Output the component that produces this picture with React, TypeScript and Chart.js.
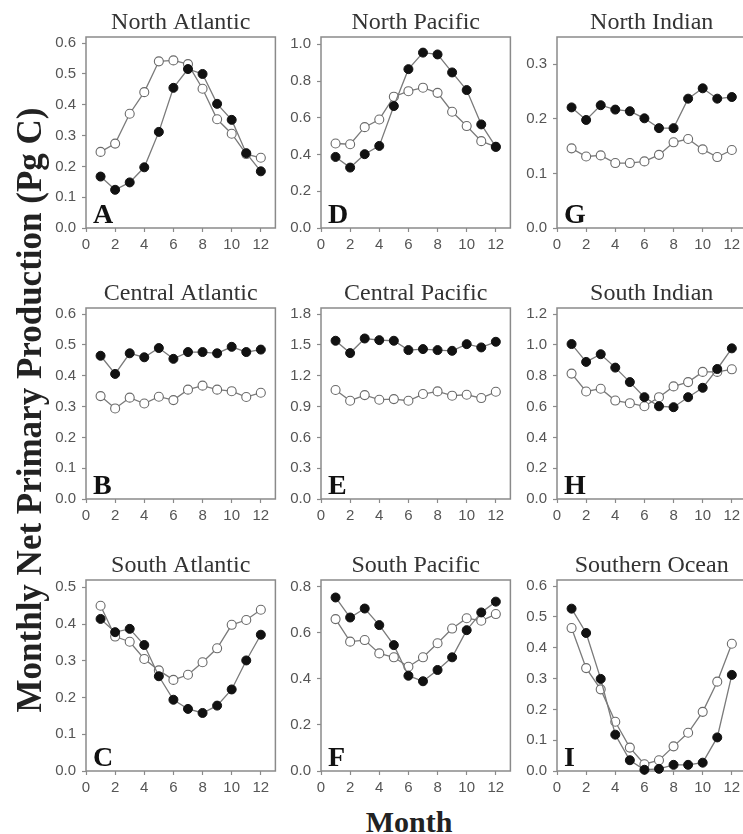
import React, { useEffect, useRef } from "react";
import { Chart, registerables } from "chart.js";

Chart.register(...registerables);

// ---------- data ----------
const months = [1, 2, 3, 4, 5, 6, 7, 8, 9, 10, 11, 12];
const xTicks = [0, 2, 4, 6, 8, 10, 12];

const naFilled = [0.167, 0.124, 0.148, 0.197, 0.312, 0.455, 0.516, 0.5, 0.403, 0.351, 0.243, 0.184];
const naOpen = [0.247, 0.274, 0.371, 0.441, 0.541, 0.544, 0.532, 0.452, 0.353, 0.306, 0.24, 0.228];

const caFilled = [0.465, 0.406, 0.473, 0.46, 0.49, 0.455, 0.477, 0.477, 0.473, 0.494, 0.477, 0.485];
const caOpen = [0.334, 0.294, 0.329, 0.31, 0.332, 0.321, 0.355, 0.368, 0.355, 0.35, 0.331, 0.345];

const saFilled = [0.414, 0.378, 0.387, 0.343, 0.258, 0.194, 0.169, 0.158, 0.178, 0.222, 0.301, 0.371];
const saOpen = [0.45, 0.366, 0.352, 0.305, 0.274, 0.248, 0.262, 0.296, 0.334, 0.398, 0.411, 0.439];

const npFilled = [0.387, 0.329, 0.402, 0.447, 0.664, 0.865, 0.955, 0.945, 0.847, 0.751, 0.564, 0.442];
const npOpen = [0.46, 0.456, 0.549, 0.591, 0.715, 0.745, 0.764, 0.736, 0.633, 0.555, 0.473, 0.442];

const cpFilled = [1.541, 1.421, 1.563, 1.547, 1.541, 1.45, 1.46, 1.45, 1.443, 1.508, 1.476, 1.531];
const cpOpen = [1.061, 0.957, 1.012, 0.967, 0.973, 0.957, 1.022, 1.048, 1.006, 1.015, 0.983, 1.044];

const spFilled = [0.754, 0.667, 0.706, 0.634, 0.547, 0.414, 0.39, 0.439, 0.494, 0.612, 0.689, 0.736];
const spOpen = [0.66, 0.562, 0.569, 0.511, 0.494, 0.453, 0.494, 0.555, 0.619, 0.664, 0.653, 0.682];

const niFilled = [0.221, 0.198, 0.225, 0.217, 0.214, 0.201, 0.183, 0.183, 0.237, 0.256, 0.237, 0.24];
const niOpen = [0.146, 0.131, 0.133, 0.119, 0.119, 0.122, 0.134, 0.157, 0.163, 0.144, 0.13, 0.143];

const siFilled = [1.006, 0.89, 0.94, 0.853, 0.759, 0.661, 0.602, 0.596, 0.661, 0.722, 0.844, 0.978];
const siOpen = [0.814, 0.698, 0.716, 0.639, 0.622, 0.602, 0.661, 0.731, 0.759, 0.825, 0.825, 0.842];

const soFilled = [0.527, 0.448, 0.299, 0.118, 0.035, 0.004, 0.007, 0.02, 0.02, 0.027, 0.109, 0.312];
const soOpen = [0.464, 0.334, 0.265, 0.16, 0.076, 0.022, 0.035, 0.08, 0.124, 0.192, 0.29, 0.413];

const ticks06 = [0, 0.1, 0.2, 0.3, 0.4, 0.5, 0.6];
const ticks05 = [0, 0.1, 0.2, 0.3, 0.4, 0.5];
const ticks10 = [0, 0.2, 0.4, 0.6, 0.8, 1.0];
const ticks18 = [0, 0.3, 0.6, 0.9, 1.2, 1.5, 1.8];
const ticks08 = [0, 0.2, 0.4, 0.6, 0.8];
const ticks03 = [0, 0.1, 0.2, 0.3];
const ticks12 = [0, 0.2, 0.4, 0.6, 0.8, 1.0, 1.2];

const yAxisTitle = "Monthly Net Primary Production (Pg C)";
const xAxisTitle = "Month";

// ---------- styling / layout ----------
const FRAME = "#8a8a8a";
const LINE = "#7a7a7a";
const SERIF = '"Liberation Serif", "Times New Roman", serif';
const SANS = '"Liberation Sans", Arial, sans-serif';

const PLOT_W = 192;
const PLOT_H = 191;
const Y_AXIS_W = 40;
const X_AXIS_H = 30;
const TITLE_H = 28;
const RIGHT_PAD = 3;

type PanelSpec = {
  title: string;
  letter: string;
  filled: number[];
  open: number[];
  yTicks: number[];
  yMax: number;
  left: number;
  top: number;
};

const colLeft = [86, 321, 557];
const rowTop = [37, 308, 580];

const panels: PanelSpec[] = [
  { title: "North Atlantic", letter: "A", filled: naFilled, open: naOpen, yTicks: ticks06, yMax: 0.62, left: colLeft[0], top: rowTop[0] },
  { title: "Central Atlantic", letter: "B", filled: caFilled, open: caOpen, yTicks: ticks06, yMax: 0.62, left: colLeft[0], top: rowTop[1] },
  { title: "South Atlantic", letter: "C", filled: saFilled, open: saOpen, yTicks: ticks05, yMax: 0.52, left: colLeft[0], top: rowTop[2] },
  { title: "North Pacific", letter: "D", filled: npFilled, open: npOpen, yTicks: ticks10, yMax: 1.04, left: colLeft[1], top: rowTop[0] },
  { title: "Central Pacific", letter: "E", filled: cpFilled, open: cpOpen, yTicks: ticks18, yMax: 1.86, left: colLeft[1], top: rowTop[1] },
  { title: "South Pacific", letter: "F", filled: spFilled, open: spOpen, yTicks: ticks08, yMax: 0.83, left: colLeft[1], top: rowTop[2] },
  { title: "North Indian", letter: "G", filled: niFilled, open: niOpen, yTicks: ticks03, yMax: 0.35, left: colLeft[2], top: rowTop[0] },
  { title: "South Indian", letter: "H", filled: siFilled, open: siOpen, yTicks: ticks12, yMax: 1.24, left: colLeft[2], top: rowTop[1] },
  { title: "Southern Ocean", letter: "I", filled: soFilled, open: soOpen, yTicks: ticks06, yMax: 0.62, left: colLeft[2], top: rowTop[2] },
];

const framePlugin = {
  id: "frameBox",
  beforeDatasetsDraw(chart: any) {
    const { ctx, chartArea: a } = chart;
    ctx.save();
    ctx.strokeStyle = FRAME;
    ctx.lineWidth = 1.5;
    ctx.strokeRect(a.left, a.top, a.right - a.left, a.bottom - a.top);
    ctx.restore();
  },
};

function Panel({ spec }: { spec: PanelSpec }) {
  const ref = useRef<HTMLCanvasElement | null>(null);
  const cw = Y_AXIS_W + PLOT_W + RIGHT_PAD;
  const ch = TITLE_H + PLOT_H + X_AXIS_H;

  useEffect(() => {
    if (!ref.current) return;
    const letterPlugin = {
      id: "panelLetter",
      afterDraw(chart: any) {
        const { ctx, chartArea: a } = chart;
        ctx.save();
        ctx.font = `bold 28px ${SERIF}`;
        ctx.fillStyle = "#111";
        ctx.textBaseline = "alphabetic";
        ctx.textAlign = "left";
        ctx.fillText(spec.letter, a.left + 7, a.bottom - 5);
        ctx.restore();
      },
    };
    const chart = new Chart(ref.current, {
      type: "line",
      data: {
        datasets: [
          {
            data: months.map((m, i) => ({ x: m, y: spec.filled[i] })),
            borderColor: LINE,
            borderWidth: 1.3,
            pointRadius: 4.5,
            pointBackgroundColor: "#111",
            pointBorderColor: "#111",
            pointBorderWidth: 1,
            clip: false as any,
          },
          {
            data: months.map((m, i) => ({ x: m, y: spec.open[i] })),
            borderColor: LINE,
            borderWidth: 1.3,
            pointRadius: 4.5,
            pointBackgroundColor: "#fff",
            pointBorderColor: "#6a6a6a",
            pointBorderWidth: 1.1,
            clip: false as any,
          },
        ],
      },
      options: {
        animation: false,
        responsive: false,
        maintainAspectRatio: false,
        layout: { padding: { left: 0, right: RIGHT_PAD, top: 0, bottom: 0 } },
        elements: { line: { tension: 0 } },
        plugins: {
          legend: { display: false },
          tooltip: { enabled: false },
          title: {
            display: true,
            text: spec.title,
            fullSize: false,
            color: "#333",
            padding: 0,
            font: { family: SERIF, size: 24, weight: "normal", lineHeight: TITLE_H / 24 },
          },
        },
        scales: {
          x: {
            type: "linear",
            min: 0,
            max: 13,
            afterBuildTicks: (s: any) => {
              s.ticks = xTicks.map((v) => ({ value: v }));
            },
            afterFit: (s: any) => {
              s.height = X_AXIS_H;
            },
            grid: {
              display: true,
              drawOnChartArea: false,
              drawTicks: true,
              tickLength: 4,
              tickColor: FRAME,
              tickWidth: 1.2,
            },
            border: { display: false },
            ticks: {
              font: { family: SANS, size: 15 },
              color: "#555",
              padding: 4,
              autoSkip: false,
              maxRotation: 0,
              callback: (v: any) => String(v),
            },
          },
          y: {
            type: "linear",
            min: 0,
            max: spec.yMax,
            afterBuildTicks: (s: any) => {
              s.ticks = spec.yTicks.map((v) => ({ value: v }));
            },
            afterFit: (s: any) => {
              s.width = Y_AXIS_W;
            },
            grid: {
              display: true,
              drawOnChartArea: false,
              drawTicks: true,
              tickLength: 4,
              tickColor: FRAME,
              tickWidth: 1.2,
            },
            border: { display: false },
            ticks: {
              font: { family: SANS, size: 15 },
              color: "#555",
              padding: 6,
              autoSkip: false,
              callback: (v: any) => Number(v).toFixed(1),
            },
          },
        },
      } as any,
      plugins: [framePlugin, letterPlugin],
    });
    return () => chart.destroy();
  }, [spec]);

  return (
    <canvas
      ref={ref}
      width={cw}
      height={ch}
      style={{
        position: "absolute",
        left: spec.left - Y_AXIS_W,
        top: spec.top - TITLE_H,
        width: cw,
        height: ch,
      }}
    />
  );
}

export default function App() {
  return (
    <div
      style={{
        position: "fixed",
        left: 0,
        top: 0,
        width: 743,
        height: 834,
        overflow: "hidden",
        background: "#fff",
      }}
    >
      {panels.map((p) => (
        <Panel key={p.letter} spec={p} />
      ))}
      <div
        style={{
          position: "absolute",
          left: 30 - 350,
          top: 410 - 17,
          width: 700,
          height: 34,
          lineHeight: "34px",
          fontFamily: SERIF,
          fontWeight: "bold",
          fontSize: 35,
          color: "#222",
          textAlign: "center",
          whiteSpace: "nowrap",
          transform: "rotate(-90deg)",
          transformOrigin: "50% 50%",
        }}
      >
        {yAxisTitle}
      </div>
      <div
        style={{
          position: "absolute",
          left: 309,
          top: 807,
          width: 200,
          height: 30,
          lineHeight: "30px",
          fontFamily: SERIF,
          fontWeight: "bold",
          fontSize: 30,
          color: "#222",
          textAlign: "center",
          whiteSpace: "nowrap",
        }}
      >
        {xAxisTitle}
      </div>
    </div>
  );
}
